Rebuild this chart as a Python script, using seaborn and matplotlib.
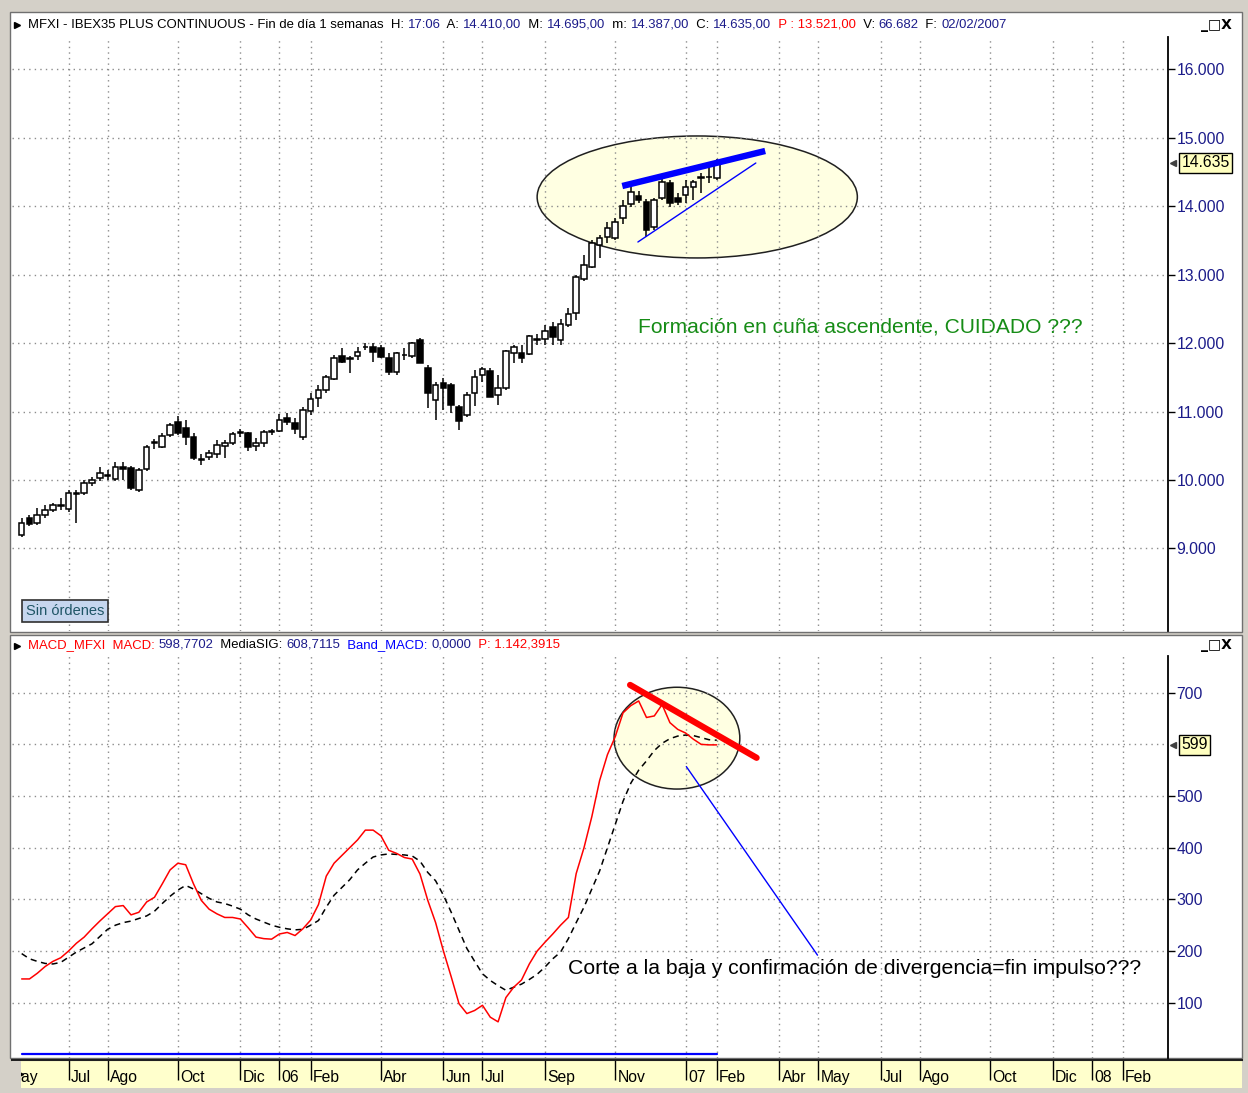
import numpy as np
import pandas as pd
import matplotlib
matplotlib.use("Agg")
import matplotlib.pyplot as plt
import seaborn as sns
from matplotlib.patches import Ellipse, Rectangle
from matplotlib.transforms import blended_transform_factory
from matplotlib import font_manager as fm

# ---------------- data (weekly candles, MFXI, May-2005 .. 02/02/2007) ----------------
opens = [9196, 9445, 9372, 9489, 9562, 9620, 9576, 9800, 9810, 9956,
         10029, 10058, 10015, 10190, 10175, 9854, 10160, 10540, 10482, 10657,
         10847, 10760, 10628, 10300, 10336, 10380, 10497, 10540, 10686, 10687,
         10497, 10540, 10700, 10716, 10906, 10833, 10628, 11008, 11198, 11315,
         11476, 11812, 11770, 11812, 11940, 11943, 11928, 11782, 11578, 11820,
         11812, 12045, 11636, 11169, 11417, 11388, 11066, 10950, 11271, 11534,
         11593, 11242, 11344, 11855, 11855, 11841, 12050, 12060, 12235, 12045,
         12265, 12440, 12937, 13112, 13433, 13550, 13535, 13828, 14032, 14149,
         14062, 13696, 14120, 14339, 14120, 14164, 14281, 14410, 14420, 14410]
closes = [9372, 9357, 9489, 9562, 9635, 9630, 9810, 9815, 9956, 10000,
          10102, 10070, 10190, 10160, 9883, 10146, 10482, 10555, 10643, 10804,
          10687, 10628, 10321, 10292, 10394, 10511, 10540, 10672, 10700, 10482,
          10540, 10701, 10715, 10877, 10847, 10745, 11023, 11183, 11315, 11505,
          11782, 11724, 11780, 11870, 11950, 11870, 11797, 11578, 11855, 11830,
          12001, 11709, 11271, 11388, 11344, 11096, 10862, 11242, 11505, 11622,
          11213, 11344, 11885, 11943, 11782, 12104, 12060, 12177, 12089, 12279,
          12425, 12966, 13141, 13463, 13535, 13682, 13769, 14003, 14208, 14091,
          13653, 14091, 14354, 14047, 14062, 14281, 14354, 14420, 14430, 14635]
highs = [9445, 9489, 9591, 9635, 9664, 9737, 9854, 9854, 10000, 10044,
         10190, 10146, 10263, 10263, 10205, 10175, 10511, 10599, 10687, 10833,
         10935, 10877, 10687, 10380, 10438, 10584, 10584, 10701, 10745, 10701,
         10614, 10730, 10745, 10964, 10979, 10906, 11066, 11271, 11388, 11534,
         11826, 11928, 11812, 11943, 12001, 12001, 11972, 11855, 11870, 11928,
         12016, 12075, 11680, 11432, 11490, 11417, 11096, 11286, 11607, 11651,
         11636, 11534, 11899, 11972, 11972, 12118, 12133, 12265, 12308, 12352,
         12513, 12995, 13287, 13506, 13580, 13769, 13828, 14091, 14310, 14222,
         14105, 14120, 14412, 14383, 14193, 14383, 14383, 14485, 14631, 14695]
lows = [9167, 9328, 9343, 9445, 9532, 9562, 9532, 9372, 9781, 9912,
        9985, 10000, 9985, 10000, 9854, 9825, 10131, 10453, 10467, 10628,
        10657, 10511, 10292, 10219, 10292, 10321, 10321, 10511, 10628, 10424,
        10424, 10482, 10657, 10701, 10803, 10672, 10584, 10950, 11066, 11271,
        11461, 11709, 11563, 11753, 11899, 11724, 11782, 11534, 11534, 11753,
        11782, 11709, 11052, 10877, 11023, 10979, 10731, 10920, 11081, 11432,
        11213, 11096, 11315, 11709, 11709, 11826, 11972, 11972, 11972, 11972,
        12235, 12338, 12907, 13097, 13243, 13463, 13506, 13740, 13989, 14047,
        13550, 13653, 14091, 13989, 14018, 14047, 14091, 14193, 14339, 14387]

macd = [146, 146, 157, 170, 180, 187, 200, 215, 227, 243,
        258, 272, 286, 288, 270, 275, 295, 304, 330, 357,
        370, 367, 330, 298, 281, 272, 265, 265, 262, 245,
        227, 224, 223, 233, 236, 230, 243, 260, 290, 345,
        370, 385, 400, 415, 434, 434, 423, 395, 389, 381,
        378, 349, 298, 255, 200, 150, 98, 79, 85, 95,
        72, 63, 110, 130, 144, 175, 200, 217, 233, 250,
        265, 350, 400, 460, 530, 580, 615, 661, 675, 684,
        652, 655, 677, 642, 629, 622, 610, 600, 599, 599]
signal = [195, 185, 180, 176, 175, 178, 188, 198, 206, 214,
          228, 242, 250, 255, 258, 263, 268, 277, 292, 306,
          318, 327, 320, 311, 302, 295, 292, 287, 281, 270,
          262, 256, 250, 246, 243, 241, 242, 250, 259, 285,
          308, 323, 338, 357, 370, 382, 386, 388, 387, 386,
          384, 374, 352, 336, 308, 275, 240, 205, 180, 156,
          143, 133, 124, 130, 136, 145, 155, 169, 185, 198,
          224, 255, 285, 320, 355, 400, 445, 490, 525, 550,
          568, 588, 602, 611, 616, 618, 617, 613, 609, 608]
band_macd = [0] * len(macd)

tick_labels = ["May", "Jul", "Ago", "Oct", "Dic", "06", "Feb", "Abr", "Jun", "Jul", "Sep",
               "Nov", "07", "Feb", "Abr", "May", "Jul", "Ago", "Oct", "Dic", "08", "Feb"]
tick_weeks = [-2, 6, 11, 20, 28, 33, 37, 46, 54, 59, 67,
              76, 85, 89, 97, 102, 110, 115, 124, 132, 137, 141]

price_ticks = [9000, 10000, 11000, 12000, 13000, 14000, 15000, 16000]
macd_grid = [100, 200, 300, 400, 500, 600, 700]
macd_labels = [100, 200, 300, 400, 500, 700]

# ---------------- style ----------------
sns.set_theme(style="white")
names = {f.name for f in fm.fontManager.ttflist}
NARROW = "Liberation Sans Narrow" in names
FAM = "Liberation Sans Narrow" if NARROW else "Liberation Sans"
K = 1.0 if NARROW else 0.84
plt.rcParams["font.family"] = [FAM, "DejaVu Sans"]

NAVY = "#1C1C8A"
GRID = "#8c8c8c"
W, H = 1248, 1093
fig = plt.figure(figsize=(W / 100, H / 100), dpi=100, facecolor="#D4D0C8")


def rect(x0, y0, x1, y1):
    return [x0 / W, 1 - y1 / H, (x1 - x0) / W, (y1 - y0) / H]


def fig_rect(x0, y0, x1, y1, **kw):
    fig.add_artist(Rectangle((x0 / W, 1 - y1 / H), (x1 - x0) / W, (y1 - y0) / H,
                             transform=fig.transFigure, **kw))


fig_rect(10, 12, 1242, 632, fc="white", ec="#707070", lw=1, zorder=0)
fig_rect(10, 635, 1242, 1058, fc="white", ec="#707070", lw=1, zorder=0)

PX = 7.81           # pixels per week
X0 = -1.24          # week index at the left edge
xl_main = (X0, X0 + 1156 / PX)
xl_band = (X0, X0 + 1230 / PX)

ax1 = fig.add_axes(rect(12, 37, 1168, 631))
ax2 = fig.add_axes(rect(12, 656, 1168, 1058))
axb = fig.add_axes(rect(12, 1060, 1242, 1088))

idx = np.arange(len(opens))
df = pd.DataFrame({"week": idx, "open": opens, "high": highs, "low": lows,
                   "close": closes, "MACD": macd, "MediaSIG": signal,
                   "Band_MACD": band_macd})

for ax in (ax1, ax2):
    ax.set_facecolor("none")
    ax.set_xlim(*xl_main)
    for s in ("left", "top", "bottom"):
        ax.spines[s].set_visible(False)
    ax.spines["right"].set_color("black")
    ax.spines["right"].set_linewidth(1.3)
    ax.yaxis.tick_right()
    ax.tick_params(axis="y", right=True, left=False, labelright=True, labelleft=False,
                   length=5, width=1, color="black", labelcolor=NAVY,
                   labelsize=13.5 * K, pad=1)
    ax.set_xticks([])
    for t in tick_weeks[1:]:
        ax.axvline(t, color=GRID, lw=1, ls=(0, (1, 3)), zorder=1)

# ---------------- price panel ----------------
ax1.set_ylim(7794, 16472)
ax1.set_yticks(price_ticks)
ax1.set_yticklabels([f"{v:,}".replace(",", ".") for v in price_ticks])
for v in price_ticks:
    ax1.axhline(v, color=GRID, lw=1, ls=(0, (1, 3)), zorder=1)

ax1.add_patch(Ellipse((86.5, 14135), 41, 1782, fc="#FFFFE2", ec="#202020", lw=1.1, zorder=0.5))

o = df["open"].to_numpy(); c = df["close"].to_numpy()
up = c >= o
ax1.vlines(df["week"], df["low"], df["high"], color="black", lw=1.1, zorder=3)
bot = np.minimum(o, c); hgt = np.maximum(np.abs(c - o), 8)
ax1.bar(idx[up], hgt[up], bottom=bot[up], width=0.72, color="white",
        edgecolor="black", linewidth=1.1, zorder=4)
ax1.bar(idx[~up], hgt[~up], bottom=bot[~up], width=0.72, color="black",
        edgecolor="black", linewidth=1.1, zorder=4)

ax1.plot([76.9, 95.2], [14295, 14807], color="#0000FF", lw=4.6, solid_capstyle="butt", zorder=5)
ax1.plot([78.9, 94.0], [13477, 14631], color="#0000FF", lw=1, zorder=5)
ax1.text(78.9, 12235, "Formación en cuña ascendente, CUIDADO ???", color="#168C16",
         fontsize=18 * K, va="center", ha="left", zorder=6)

tb1 = blended_transform_factory(ax1.transAxes, ax1.transData)
ax1.text(1.0115, closes[-1], f"{closes[-1]:,}".replace(",", "."), transform=tb1,
         ha="left", va="center", fontsize=13.5 * K, color="black", clip_on=False,
         bbox=dict(boxstyle="square,pad=0.15", fc="#FFFFC0", ec="black", lw=1))
ax1.plot([1.0045], [closes[-1]], marker="<", ms=4, color="#404040", transform=tb1, clip_on=False)

fig.text(26 / W, 1 - 611 / H, "Sin órdenes", va="center", ha="left", fontsize=12.5 * K,
         color="#1F5566", bbox=dict(boxstyle="square,pad=0.25", fc="#C6D6EE", ec="#303030", lw=1.2))

# ---------------- MACD panel ----------------
ax2.set_ylim(-7, 771)
ax2.set_yticks(macd_labels)
ax2.set_yticklabels([str(v) for v in macd_labels])
for v in macd_grid:
    ax2.axhline(v, color=GRID, lw=1, ls=(0, (1, 3)), zorder=1)

ax2.add_patch(Ellipse((83.9, 612), 16.1, 197, fc="#FFFFE2", ec="#202020", lw=1.1, zorder=0.5))
sns.lineplot(data=df, x="week", y="MediaSIG", ax=ax2, color="black", lw=1.1,
             linestyle=(0, (4, 3)), zorder=3)
sns.lineplot(data=df, x="week", y="MACD", ax=ax2, color="#FF0000", lw=1.1, zorder=4)
sns.lineplot(data=df, x="week", y="Band_MACD", ax=ax2, color="#0000FF", lw=1.6, zorder=4)
ax2.set_xlabel(""); ax2.set_ylabel("")
ax2.set_xlim(*xl_main)

ax2.plot([77.9, 94.1], [715, 574], color="#FF0000", lw=4.5, solid_capstyle="round", zorder=5)
ax2.plot([85.1, 101.9], [557, 192], color="#0000FF", lw=1, zorder=5)
ax2.text(69.9, 167, "Corte a la baja y confirmación de divergencia=fin impulso???",
         color="black", fontsize=18.2 * K, va="center", ha="left", zorder=6)

tb2 = blended_transform_factory(ax2.transAxes, ax2.transData)
ax2.text(1.0115, macd[-1], f"{macd[-1]}", transform=tb2, ha="left", va="center",
         fontsize=13.5 * K, color="black", clip_on=False,
         bbox=dict(boxstyle="square,pad=0.15", fc="#FFFFC0", ec="black", lw=1))
ax2.plot([1.0045], [macd[-1]], marker="<", ms=4, color="#404040", transform=tb2, clip_on=False)

# ---------------- time band ----------------
axb.set_facecolor("#FFFFCC")
axb.set_xlim(*xl_band)
axb.set_ylim(0, 1)
axb.set_xticks([]); axb.set_yticks([])
for s in ("left", "right", "bottom"):
    axb.spines[s].set_visible(False)
axb.spines["top"].set_color("#202020")
axb.spines["top"].set_linewidth(1.5)
for t, lab in zip(tick_weeks, tick_labels):
    axb.vlines(t, 0.3, 1.0, color="black", lw=1)
    axb.text(t + 0.3, 0.1, lab, ha="left", va="bottom", fontsize=13.5 * K, color="black", clip_on=True)
# left scroll button hides the start of the first label
fig_rect(12, 1061, 21, 1088, fc="#D4D0C8", ec="none", zorder=5)
axb.plot([0.006], [0.5], marker=">", ms=6, color="black", transform=axb.transAxes,
         clip_on=False, zorder=7)

# ---------------- headers ----------------
def header(y0, y1, parts):
    hx = fig.add_axes(rect(12, y0, 1242, y1))
    hx.set_facecolor("white")
    hx.set_xlim(12, 1242); hx.set_ylim(0, 1)
    hx.axis("off")
    hx.plot([17], [0.5], marker=">", ms=4, color="black")
    t = hx.text(28, 0.22, parts[0][0], color=parts[0][1], fontsize=11.2 * K, va="bottom", ha="left")
    for s, col in parts[1:]:
        t = hx.annotate(s, xy=(1, 0), xycoords=t, va="bottom", ha="left",
                        color=col, fontsize=11.2 * K)
    hx.text(1201, 0.5, "_□X", family="DejaVu Sans", fontsize=10, va="center", ha="left",
            color="black", weight="bold")
    return hx


header(13, 36, [("MFXI - IBEX35 PLUS CONTINUOUS - Fin de día 1 semanas  H: ", "black"),
                ("17:06", NAVY), ("  A: ", "black"), ("14.410,00", NAVY),
                ("  M: ", "black"), ("14.695,00", NAVY), ("  m: ", "black"),
                ("14.387,00", NAVY), ("  C: ", "black"), ("14.635,00", NAVY),
                ("  P : 13.521,00", "#FF0000"), ("  V: ", "black"), ("66.682", NAVY),
                ("  F: ", "black"), ("02/02/2007", NAVY)])
header(636, 655, [("MACD_MFXI  MACD: ", "#FF0000"), ("598,7702", NAVY),
                  ("  MediaSIG: ", "black"), ("608,7115", NAVY),
                  ("  Band_MACD: ", "#0000FF"), ("0,0000", NAVY),
                  ("  P: 1.142,3915", "#FF0000")])

fig.savefig("out.png", dpi=100, facecolor=fig.get_facecolor())
